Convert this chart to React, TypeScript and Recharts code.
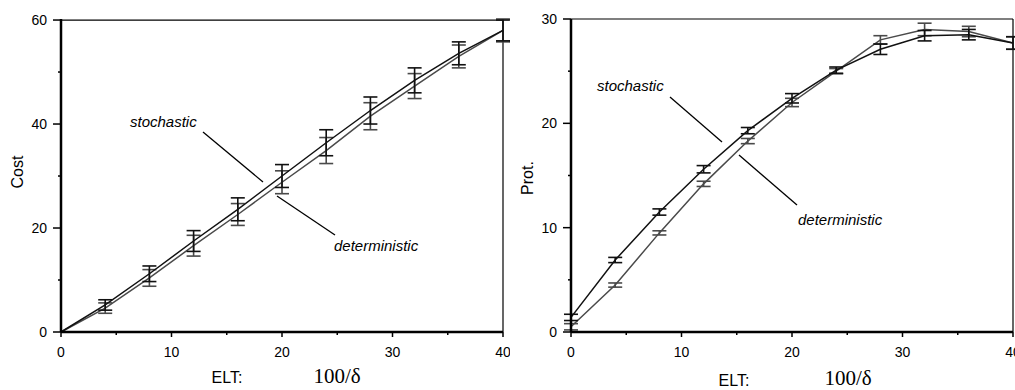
import { LineChart, Line, XAxis, YAxis, ErrorBar, ReferenceLine } from 'recharts';

const elt = [0, 4, 8, 12, 16, 20, 24, 28, 32, 36, 40];

// Cost panel
const costStoch = [0, 5.2, 11.2, 17.5, 23.6, 30.0, 36.4, 42.6, 48.4, 53.6, 58.0];
const costStochErr = [0, 1.0, 1.5, 2.0, 2.2, 2.2, 2.5, 2.6, 2.4, 2.2, 2.0];
const costDet = [0, 4.6, 10.4, 16.6, 22.6, 28.8, 34.9, 41.5, 47.3, 53.0, 58.0];
const costDetErr = [0, 1.0, 1.6, 2.0, 2.1, 2.2, 2.5, 2.6, 2.4, 2.2, 2.2];

// Prot. panel
const protStoch = [1.4, 6.9, 11.5, 15.6, 19.3, 22.4, 25.1, 27.1, 28.4, 28.5, 27.7];
const protStochErr = [0.3, 0.25, 0.3, 0.35, 0.3, 0.45, 0.3, 0.5, 0.5, 0.5, 0.6];
const protDet = [0.5, 4.5, 9.5, 14.2, 18.3, 22.0, 25.0, 28.0, 29.0, 28.8, 27.7];
const protDetErr = [0.3, 0.2, 0.2, 0.25, 0.25, 0.4, 0.25, 0.4, 0.6, 0.5, 0.6];

const xTicks = [0, 5, 10, 15, 20, 25, 30, 35, 40];
const costTicks = [0, 10, 20, 30, 40, 50, 60];
const protTicks = [0, 5, 10, 15, 20, 25, 30];

const SANS = '"Liberation Sans", Arial, sans-serif';
const SERIF = '"Liberation Serif", "Times New Roman", serif';
const STOCH = '#111';
const DET = '#4a4a4a';

function XTick(props: any) {
  const { x, y, payload } = props;
  const major = payload.value % 10 === 0;
  return (
    <g>
      <line x1={x} y1={y} x2={x} y2={y + (major ? 5 : 3)} stroke="#000" strokeWidth={1.5} />
      {major && (
        <text x={x} y={y + 25} textAnchor="middle" fontSize={14} fontFamily={SANS} fill="#000">
          {payload.value}
        </text>
      )}
    </g>
  );
}

function makeYTick(step: number) {
  return (props: any) => {
    const { x, y, payload } = props;
    const major = payload.value % step === 0;
    return (
      <g>
        <line x1={x - (major ? 8 : 3)} y1={y} x2={x} y2={y} stroke="#000" strokeWidth={1.5} />
        {major && (
          <text x={x - 14} y={y + 5} textAnchor="end" fontSize={14} fontFamily={SANS} fill="#000">
            {payload.value}
          </text>
        )}
      </g>
    );
  };
}

function Panel({ s, sErr, d, dErr, yMax, yTicks, yStep, width, right }: any) {
  const data = elt.map((x, i) => ({ x, s: s[i], sErr: sErr[i], d: d[i], dErr: dErr[i] }));
  return (
    <LineChart width={width} height={390} data={data} margin={{ top: 19, right, left: 0, bottom: 0 }}>
      <XAxis
        dataKey="x"
        type="number"
        domain={[0, 40]}
        ticks={xTicks}
        interval={0}
        height={58}
        tickSize={0}
        tickMargin={0}
        tickLine={false}
        tick={<XTick />}
        axisLine={{ stroke: '#000', strokeWidth: 2.5 }}
      />
      <YAxis
        type="number"
        domain={[0, yMax]}
        ticks={yTicks}
        interval={0}
        width={61}
        tickSize={0}
        tickMargin={0}
        tickLine={false}
        tick={makeYTick(yStep)}
        axisLine={{ stroke: '#000', strokeWidth: 2.5 }}
      />
      <ReferenceLine y={yMax} stroke="#000" strokeWidth={1.2} />
      <ReferenceLine x={40} stroke="#000" strokeWidth={1.2} />
      <Line dataKey="d" type="linear" stroke={DET} strokeWidth={1.5} dot={false} isAnimationActive={false}>
        <ErrorBar dataKey="dErr" width={7} stroke={DET} strokeWidth={1.6} direction="y" />
      </Line>
      <Line dataKey="s" type="linear" stroke={STOCH} strokeWidth={1.5} dot={false} isAnimationActive={false}>
        <ErrorBar dataKey="sErr" width={7} stroke={STOCH} strokeWidth={1.6} direction="y" />
      </Line>
    </LineChart>
  );
}

export default function App() {
  return (
    <div style={{ position: 'absolute', left: 0, top: 0, width: 1015, height: 390, overflow: 'hidden', background: '#fff' }}>
      <div style={{ position: 'absolute', left: 0, top: 0 }}>
        <Panel s={costStoch} sErr={costStochErr} d={costDet} dErr={costDetErr} yMax={60} yTicks={costTicks} yStep={20} width={510} right={7} />
      </div>
      <div style={{ position: 'absolute', left: 510, top: 0 }}>
        <Panel s={protStoch} sErr={protStochErr} d={protDet} dErr={protDetErr} yMax={30} yTicks={protTicks} yStep={10} width={505} right={2} />
      </div>
      <svg width={1015} height={390} style={{ position: 'absolute', left: 0, top: 0, pointerEvents: 'none' }}>
        <g fontFamily={SANS} fill="#000">
          <text x={0} y={0} transform="translate(23,172) rotate(-90)" textAnchor="middle" fontSize={16}>Cost</text>
          <text x={227} y={383} textAnchor="middle" fontSize={16}>ELT:</text>
          <text x={130} y={127} fontSize={15} fontStyle="italic">stochastic</text>
          <text x={334} y={251} fontSize={15} fontStyle="italic">deterministic</text>

          <text x={0} y={0} transform="translate(533,178) rotate(-90)" textAnchor="middle" fontSize={16}>Prot.</text>
          <text x={734} y={386} textAnchor="middle" fontSize={16}>ELT:</text>
          <text x={597} y={91} fontSize={15} fontStyle="italic">stochastic</text>
          <text x={798} y={225} fontSize={15} fontStyle="italic">deterministic</text>
        </g>
        <g fontFamily={SERIF} fill="#000" fontSize={21}>
          <text x={337} y={383} textAnchor="middle">100/δ</text>
          <text x={848} y={385} textAnchor="middle">100/δ</text>
        </g>
        <g stroke="#000" strokeWidth={1.3}>
          <line x1={203} y1={132} x2={263} y2={182} />
          <line x1={277} y1={196} x2={335} y2={235} />
          <line x1={670} y1={97} x2={722} y2={142} />
          <line x1={739} y1={155} x2={797} y2={205} />
        </g>
      </svg>
    </div>
  );
}
